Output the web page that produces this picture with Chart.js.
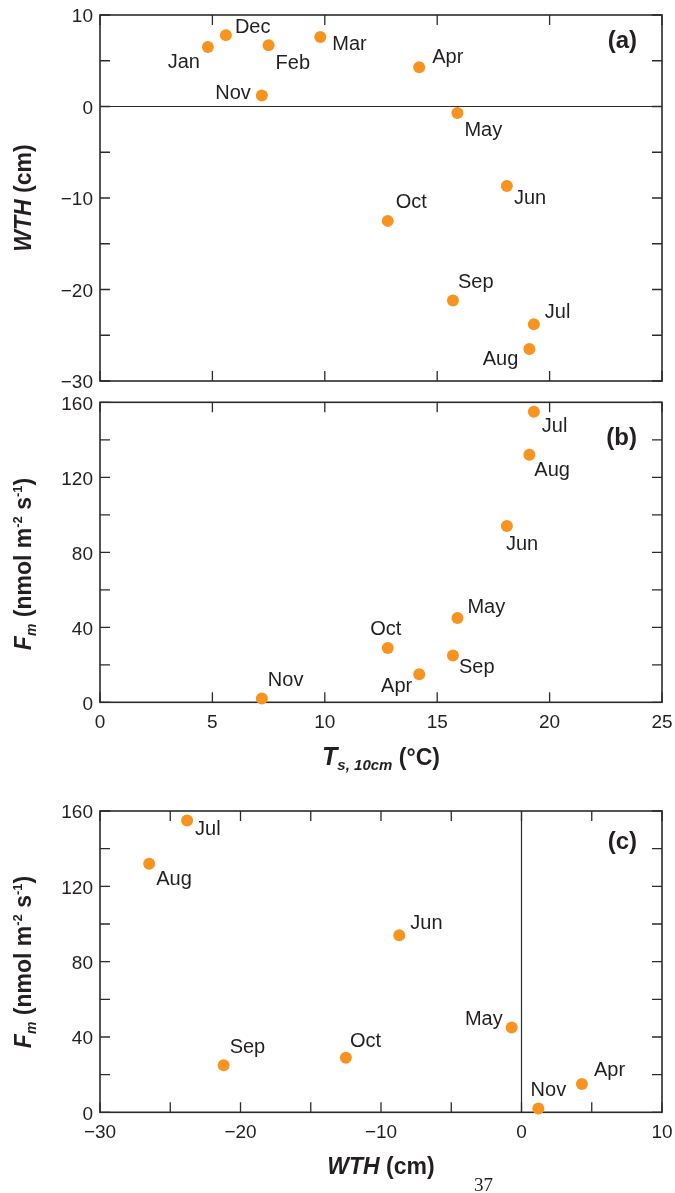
<!DOCTYPE html>
<html>
<head>
<meta charset="utf-8">
<script src="https://cdn.jsdelivr.net/npm/chart.js@4.4.1/dist/chart.umd.min.js"></script>
<style>
  body { margin: 0; background: #fff; width: 675px; height: 1193px; position: relative; overflow: hidden; }
  .panel { position: absolute; left: 0; width: 675px; }
  #pageNo { position: absolute; left: 474px; top: 1175px; line-height: 19px;
            font-family: "Liberation Serif", "DejaVu Serif", serif; font-size: 19px; color: #231f20; }
</style>
</head>
<body>
<div class="panel" style="top:0;height:390px"><canvas id="chartA"></canvas></div>
<div class="panel" style="top:390px;height:400px"><canvas id="chartB"></canvas></div>
<div class="panel" style="top:790px;height:403px"><canvas id="chartC"></canvas></div>
<div id="pageNo">37</div>
<script>
// monthly means
const months = ['Jan', 'Feb', 'Mar', 'Apr', 'May', 'Jun', 'Jul', 'Aug', 'Sep', 'Oct', 'Nov', 'Dec'];
const soilTemp = [4.8, 7.5, 9.8, 14.2, 15.9, 18.1, 19.3, 19.1, 15.7, 12.8, 7.2, 5.6];   // Ts,10cm (°C)
const wth = [6.5, 6.7, 7.6, 4.3, -0.7, -8.7, -23.8, -26.5, -21.2, -12.5, 1.2, 7.8];      // WTH (cm)
const flux = [null, null, null, 15, 45, 94, 155, 132, 25, 29, 2, null];                  // Fm (nmol m-2 s-1)

// labelled ticks
const tempTicks = [0, 5, 10, 15, 20, 25];
const wthTicksY = [10, 0, -10, -20, -30];
const wthTicksX = [-30, -20, -10, 0, 10];
const fluxTicks = [0, 40, 80, 120, 160];

// where each month name sits relative to its dot: [dx, dy, align]
const labelPos = {
  a: { Jan: [-8, 15, 'right'], Dec: [9, -8, 'left'], Feb: [7, 18, 'left'], Mar: [12, 8, 'left'],
       Apr: [13, -10, 'left'], May: [7, 18, 'left'], Jun: [7, 12, 'left'], Jul: [11, -12, 'left'],
       Aug: [-11, 11, 'right'], Sep: [5, -18, 'left'], Oct: [8, -18, 'left'], Nov: [-11, -2, 'right'] },
  b: { Apr: [-7, 12, 'right'], May: [10, -10, 'left'], Jun: [-1, 18, 'left'], Jul: [8, 15, 'left'],
       Aug: [5, 16, 'left'], Sep: [6, 12, 'left'], Oct: [-2, -18, 'center'], Nov: [6, -18, 'left'] },
  c: { Apr: [12, -14, 'left'], May: [-9, -8, 'right'], Jun: [11, -12, 'left'], Jul: [8, 9, 'left'],
       Aug: [7, 16, 'left'], Sep: [6, -18, 'left'], Oct: [4, -16, 'left'], Nov: [10, -18, 'center'] }
};

const family = '"Liberation Sans", Arial, Helvetica, sans-serif';
const ink = '#231f20';
const dotColor = '#f7931e';

function fmt(v) {
  return v < 0 ? '\u2212' + Math.abs(v) : String(v);
}

function makePoints(xs, ys) {
  const pts = [];
  months.forEach((m, i) => {
    if (xs[i] != null && ys[i] != null) pts.push({ x: xs[i], y: ys[i], m: m });
  });
  return pts;
}

function drawRich(ctx, parts, cx, cy, vertical) {
  ctx.save();
  let total = 0;
  parts.forEach(p => { ctx.font = p.font; p.w = ctx.measureText(p.t).width; total += p.w; });
  ctx.translate(cx, cy);
  if (vertical) ctx.rotate(-Math.PI / 2);
  ctx.textBaseline = 'alphabetic';
  ctx.textAlign = 'left';
  ctx.fillStyle = ink;
  let x = -total / 2;
  parts.forEach(p => { ctx.font = p.font; ctx.fillText(p.t, x, p.dy || 0); x += p.w; });
  ctx.restore();
}

// no extra room for overhanging tick labels: the plot box is placed by hand
function noOverhang(s) {
  s.paddingLeft = 0; s.paddingRight = 0; s.paddingTop = 0; s.paddingBottom = 0;
}

const framePlugin = {
  id: 'frame',
  beforeDatasetsDraw(chart, args, o) {
    const { ctx, chartArea: a, scales: { x, y } } = chart;
    ctx.save();
    ctx.strokeStyle = '#2b2b2b';
    // zero reference line
    ctx.lineWidth = 1.2;
    ctx.beginPath();
    if (o.zeroY) { const py = y.getPixelForValue(0); ctx.moveTo(a.left, py); ctx.lineTo(a.right, py); }
    if (o.zeroX) { const px = x.getPixelForValue(0); ctx.moveTo(px, a.top); ctx.lineTo(px, a.bottom); }
    ctx.stroke();
    // box
    ctx.lineWidth = 1.6;
    ctx.strokeRect(a.left, a.top, a.right - a.left, a.bottom - a.top);
    // inward ticks on all four sides
    ctx.lineWidth = 1.3;
    ctx.beginPath();
    x.ticks.forEach(t => {
      const px = x.getPixelForValue(t.value);
      ctx.moveTo(px, a.top); ctx.lineTo(px, a.top + 10);
      ctx.moveTo(px, a.bottom); ctx.lineTo(px, a.bottom - 10);
    });
    y.ticks.forEach(t => {
      const py = y.getPixelForValue(t.value);
      ctx.moveTo(a.left, py); ctx.lineTo(a.left + 10, py);
      ctx.moveTo(a.right, py); ctx.lineTo(a.right - 10, py);
    });
    ctx.stroke();
    ctx.restore();
  },
  afterDatasetsDraw(chart, args, o) {
    const { ctx, chartArea: a } = chart;
    const meta = chart.getDatasetMeta(0);
    const data = chart.data.datasets[0].data;
    ctx.save();
    ctx.fillStyle = ink;
    ctx.font = '20px ' + family;
    ctx.textBaseline = 'middle';
    meta.data.forEach((el, i) => {
      const pos = o.labels[data[i].m];
      if (!pos) return;
      ctx.textAlign = pos[2];
      ctx.fillText(data[i].m, el.x + pos[0], el.y + pos[1]);
    });
    // panel tag
    ctx.font = 'bold 24px ' + family;
    ctx.textAlign = 'right';
    ctx.fillText(o.tag, 637, o.tagY);
    ctx.restore();
    if (o.yTitle) drawRich(ctx, o.yTitle, 31, o.yTitleY, true);
    if (o.xTitle) drawRich(ctx, o.xTitle, (a.left + a.right) / 2, o.xTitleY, false);
  }
};

function buildChart(id, cfg) {
  const tickFont = { family: family, size: 19 };
  return new Chart(document.getElementById(id), {
    type: 'scatter',
    data: {
      datasets: [{
        data: cfg.points,
        backgroundColor: dotColor,
        borderWidth: 0,
        pointRadius: 6,
        pointHoverRadius: 6,
        clip: false
      }]
    },
    options: {
      responsive: true,
      maintainAspectRatio: false,
      animation: false,
      devicePixelRatio: 1,
      events: [],
      layout: { padding: { top: cfg.padTop, right: 13, left: 0, bottom: 0 } },
      plugins: { legend: { display: false }, tooltip: { enabled: false }, frame: cfg.frame },
      scales: {
        x: {
          type: 'linear', min: cfg.xMin, max: cfg.xMax,
          ticks: {
            stepSize: 5, display: cfg.xLabels.length > 0, autoSkip: false, maxRotation: 0, minRotation: 0,
            callback: v => cfg.xLabels.includes(v) ? fmt(v) : '',
            font: tickFont, color: ink, padding: 9
          },
          grid: { display: false, drawTicks: false },
          border: { display: false },
          afterFit: s => { s.height = cfg.xHeight; noOverhang(s); }
        },
        y: {
          type: 'linear', min: cfg.yMin, max: cfg.yMax,
          ticks: {
            stepSize: cfg.yStep, autoSkip: false, labelOffset: 2,
            callback: v => cfg.yLabels.includes(v) ? fmt(v) : '',
            font: tickFont, color: ink, padding: 7
          },
          grid: { display: false, drawTicks: false },
          border: { display: false },
          afterFit: s => { s.width = 100; noOverhang(s); }
        }
      }
    },
    plugins: [framePlugin]
  });
}

const bold = s => 'bold ' + s + 'px ' + family;
const boldItalic = s => 'italic bold ' + s + 'px ' + family;

const fluxTitle = [
  { t: 'F', font: boldItalic(23) },
  { t: 'm', font: boldItalic(14), dy: 5 },
  { t: ' (nmol m', font: bold(23) },
  { t: '-2', font: bold(13), dy: -9 },
  { t: ' s', font: bold(23) },
  { t: '-1', font: bold(13), dy: -9 },
  { t: ')', font: bold(23) }
];

buildChart('chartA', {
  points: makePoints(soilTemp, wth),
  padTop: 15, xHeight: 9,
  xMin: 0, xMax: 25, xLabels: [],
  yMin: -30, yMax: 10, yStep: 5, yLabels: wthTicksY,
  frame: {
    labels: labelPos.a, tag: '(a)', tagY: 41, zeroY: true,
    yTitle: [{ t: 'WTH', font: boldItalic(23) }, { t: ' (cm)', font: bold(23) }], yTitleY: 198
  }
});

buildChart('chartB', {
  points: makePoints(soilTemp, flux),
  padTop: 12.3, xHeight: 87.7,
  xMin: 0, xMax: 25, xLabels: tempTicks,
  yMin: 0, yMax: 160, yStep: 20, yLabels: fluxTicks,
  frame: {
    labels: labelPos.b, tag: '(b)', tagY: 48,
    yTitle: fluxTitle, yTitleY: 174,
    xTitle: [
      { t: 'T', font: boldItalic(25) },
      { t: 's, 10cm', font: boldItalic(15), dy: 5 },
      { t: ' (\u00b0C)', font: bold(23) }
    ],
    xTitleY: 375
  }
});

buildChart('chartC', {
  points: makePoints(wth, flux),
  padTop: 21, xHeight: 80.7,
  xMin: -30, xMax: 10, xLabels: wthTicksX,
  yMin: 0, yMax: 160, yStep: 20, yLabels: fluxTicks,
  frame: {
    labels: labelPos.c, tag: '(c)', tagY: 52, zeroX: true,
    yTitle: fluxTitle, yTitleY: 172,
    xTitle: [{ t: 'WTH', font: boldItalic(23) }, { t: ' (cm)', font: bold(23) }],
    xTitleY: 384
  }
});
</script>
</body>
</html>
